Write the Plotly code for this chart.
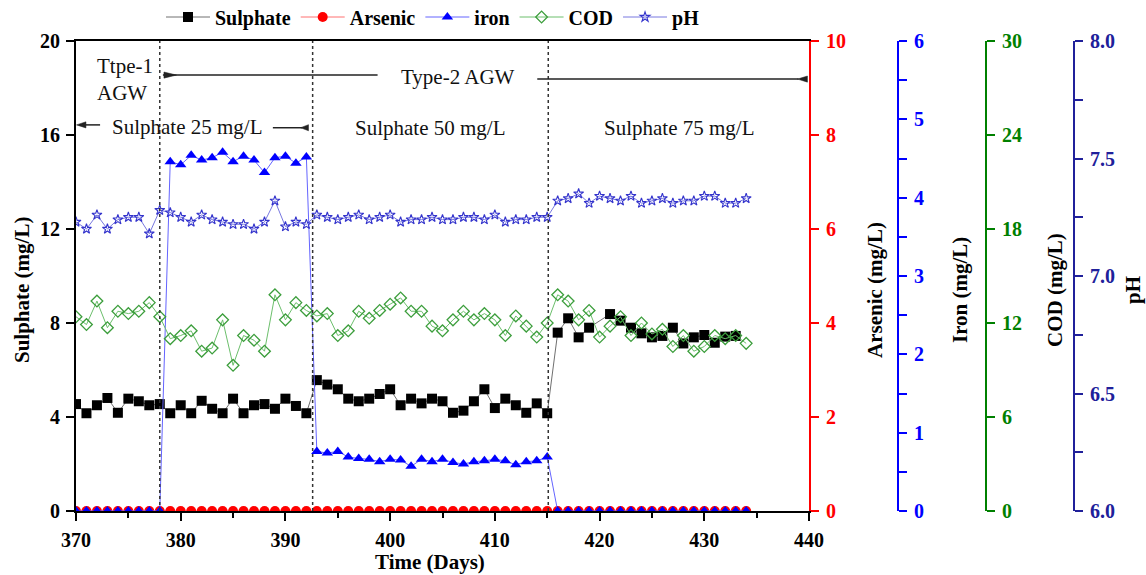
import plotly.graph_objects as go

# ---- data -------------------------------------------------------------
days = list(range(370, 435))

sulphate_days = list(range(370, 420)) + list(range(421, 434))
sulphate = [4.55, 4.16, 4.50, 4.81, 4.18, 4.78, 4.67, 4.50, 4.55, 4.16, 4.50, 4.16,
            4.69, 4.35, 4.16, 4.78, 4.16, 4.50, 4.55, 4.35, 4.78, 4.47, 4.16,
            5.57, 5.38, 5.18, 4.78, 4.67, 4.78, 4.98, 5.18, 4.50, 4.78, 4.58, 4.78,
            4.67, 4.18, 4.27, 4.67, 5.18, 4.38, 4.78, 4.50, 4.18, 4.58, 4.16,
            7.59, 8.20, 7.39, 7.80,
            8.38, 8.10, 7.80, 7.56, 7.39, 7.45, 7.80, 7.13, 7.39, 7.49, 7.16, 7.42, 7.45]

arsenic = [0.0, 0.0, 0.0, 0.0, 0.0, 0.0, 0.0, 0.0, 0.0, 0.0, 0.0, 0.0, 0.0,
           0.0, 0.0, 0.0, 0.0, 0.0, 0.0, 0.0, 0.0, 0.0, 0.0, 0.0, 0.0, 0.0,
           0.0, 0.0, 0.0, 0.0, 0.0, 0.0, 0.0, 0.0, 0.0, 0.0, 0.0, 0.0, 0.0,
           0.0, 0.0, 0.0, 0.0, 0.0, 0.0, 0.0, 0.0, 0.0, 0.0, 0.0, 0.0, 0.0,
           0.0, 0.0, 0.0, 0.0, 0.0, 0.0, 0.0, 0.0, 0.0, 0.0, 0.0, 0.0, 0.0]

iron = [0.0, 0.0, 0.0, 0.0, 0.0, 0.0, 0.0, 0.0, 0.0,
        4.46, 4.42, 4.54, 4.48, 4.51, 4.58, 4.46, 4.53, 4.48, 4.32, 4.51, 4.53, 4.44, 4.52,
        0.76, 0.74, 0.76, 0.69, 0.67, 0.66, 0.63, 0.66, 0.65, 0.57, 0.66, 0.63,
        0.66, 0.62, 0.60, 0.63, 0.64, 0.66, 0.64, 0.59, 0.63, 0.64, 0.69,
        0.0, 0.0, 0.0, 0.0, 0.0, 0.0, 0.0, 0.0, 0.0, 0.0, 0.0, 0.0, 0.0, 0.0,
        0.0, 0.0, 0.0, 0.0, 0.0]

cod = [12.4, 11.9, 13.4, 11.7, 12.75, 12.6, 12.75, 13.3, 12.4, 11.0, 11.2, 11.5,
       10.2, 10.4, 12.2, 9.3, 11.2, 10.9, 10.2, 13.8, 12.2, 13.3, 12.8,
       12.45, 12.6, 11.2, 11.5, 12.75, 12.3, 12.8, 13.2, 13.6, 12.75, 12.75, 11.8,
       11.5, 12.2, 12.75, 12.2, 12.6, 12.2, 11.2, 12.45, 11.8, 11.1, 12.0,
       13.8, 13.4, 12.2, 12.8, 11.1, 11.8, 12.4, 11.2, 12.0, 11.3, 11.6, 10.5,
       11.2, 10.2, 10.5, 11.2, 11.0, 11.2, 10.7]

ph = [7.23, 7.20, 7.26, 7.20, 7.24, 7.25, 7.25, 7.18, 7.28, 7.27, 7.25, 7.23,
      7.26, 7.24, 7.23, 7.22, 7.22, 7.20, 7.23, 7.32, 7.21, 7.23, 7.22,
      7.26, 7.25, 7.24, 7.25, 7.26, 7.24, 7.25, 7.26, 7.23, 7.24, 7.24, 7.25,
      7.24, 7.24, 7.25, 7.25, 7.24, 7.26, 7.23, 7.24, 7.24, 7.25, 7.25,
      7.32, 7.33, 7.35, 7.31, 7.34, 7.33, 7.32, 7.34, 7.31, 7.32, 7.33, 7.31,
      7.32, 7.32, 7.34, 7.34, 7.31, 7.31, 7.33]

# phase boundaries (days)
phase_bounds = [378.0, 392.6, 415.1]

# ---- styling ----------------------------------------------------------
SERIF = "Liberation Serif, Times New Roman, serif"
RED, BLUE, GREEN, NAVY = "#FF0000", "#0000FF", "#008000", "#20209A"

# figure is 1146 px wide; plotting paper spans 76..1106 px
M_L, M_R, M_T, M_B = 76, 40, 41, 64
PAPER_W = 1146 - M_L - M_R
PAPER_H = 575 - M_T - M_B
PLOT_RIGHT_PX = 809


def px_to_paper(px):
    return (px - M_L) / PAPER_W


def py_to_paper(py):
    return (575 - M_B - py) / PAPER_H


fig = go.Figure()

fig.add_trace(go.Scatter(
    x=sulphate_days, y=sulphate, name="Sulphate", mode="lines+markers",
    line=dict(color="#707070", width=1),
    marker=dict(symbol="square", size=10, color="black"), yaxis="y"))

fig.add_trace(go.Scatter(
    x=days, y=arsenic, name="Arsenic", mode="lines+markers",
    line=dict(color="#FF7070", width=1),
    marker=dict(symbol="circle", size=10, color=RED), yaxis="y2"))

fig.add_trace(go.Scatter(
    x=days, y=iron, name="iron", mode="lines+markers",
    line=dict(color="#6464FF", width=1),
    marker=dict(symbol="triangle-up", size=10, color=BLUE), yaxis="y3"))

fig.add_trace(go.Scatter(
    x=days, y=cod, name="COD", mode="lines+markers",
    line=dict(color="#6CBF6C", width=1),
    marker=dict(symbol="diamond-open", size=9, color="#3C9E3C",
                line=dict(width=1.3)), yaxis="y4"))

fig.add_trace(go.Scatter(
    x=days, y=ph, name="pH", mode="lines+markers",
    line=dict(color="#7878E0", width=1),
    marker=dict(symbol="star-open", size=7.5, color="#3333CC",
                line=dict(width=1.1)), yaxis="y5"))

tickfont = dict(family=SERIF, size=20, color="black", weight="bold")


def right_axis(color, rng, dtick, position=None, minor=None, fmt=None):
    ax = dict(
        overlaying="y", side="right", range=rng, dtick=dtick, tick0=rng[0],
        showgrid=False, zeroline=False, showline=True, linecolor=color, linewidth=2,
        ticks="outside", ticklen=8, tickwidth=2, tickcolor=color,
        tickfont=dict(family=SERIF, size=20, color=color, weight="bold"),
        ticklabelstandoff=3,
    )
    if position is None:
        ax["anchor"] = "x"
    else:
        ax["anchor"] = "free"
        ax["position"] = position
    if minor is not None:
        ax["minor"] = dict(dtick=minor, ticks="outside", ticklen=8, tickwidth=2,
                           tickcolor=color, showgrid=False)
    if fmt:
        ax["tickformat"] = fmt
    return ax


fig.update_layout(
    width=1146, height=575,
    margin=dict(l=M_L, r=M_R, t=M_T, b=M_B, autoexpand=False),
    plot_bgcolor="white", paper_bgcolor="white",
    font=dict(family=SERIF, size=20, color="black"),
    xaxis=dict(
        domain=[0, px_to_paper(PLOT_RIGHT_PX)], range=[370, 440], dtick=10, tick0=370,
        showgrid=False, zeroline=False, showline=True, linecolor="black", linewidth=2,
        mirror=True, ticks="outside", ticklen=8, tickwidth=2, tickcolor="black",
        minor=dict(dtick=5, ticks="outside", ticklen=5, tickwidth=2, tickcolor="black"),
        tickfont=tickfont, ticklabelstandoff=2,
    ),
    yaxis=dict(
        range=[0, 20], dtick=4, tick0=0, showgrid=False, zeroline=False,
        showline=True, linecolor="black", linewidth=2,
        ticks="outside", ticklen=8, tickwidth=2, tickcolor="black",
        tickfont=tickfont, ticklabelstandoff=2,
    ),
    yaxis2=right_axis(RED, [0, 10], 2),
    yaxis3=right_axis(BLUE, [0, 6], 1, position=px_to_paper(898), minor=0.5),
    yaxis4=right_axis(GREEN, [0, 30], 6, position=px_to_paper(986)),
    yaxis5=right_axis(NAVY, [6, 8], 0.5, position=px_to_paper(1074), minor=0.25, fmt=".1f"),
    legend=dict(
        orientation="h", x=px_to_paper(161), y=py_to_paper(17), xanchor="left",
        yanchor="middle",
        font=dict(family=SERIF, size=20, color="black", weight="bold"),
        bgcolor="rgba(0,0,0,0)", itemwidth=44, tracegroupgap=0,
    ),
    showlegend=True,
)

# phase boundary lines
for b in phase_bounds:
    fig.add_shape(type="line", xref="x", yref="paper", x0=b, x1=b, y0=0, y1=1,
                  line=dict(color="#333333", width=1.5, dash="dot"), layer="above")

# arrows marking the feed periods
arrow_col = "#222222"
seg_lines = [
    (378.3, 398.8, 18.55),   # Type-2 AGW, left part
    (414.05, 439.0, 18.38),  # Type-2 AGW, right part
    (370.8, 372.3, 16.43),   # Sulphate 25, left part
    (388.8, 391.6, 16.31),   # Sulphate 25, right part
]
for x0, x1, yv in seg_lines:
    fig.add_shape(type="line", xref="x", yref="y", x0=x0, x1=x1, y0=yv, y1=yv,
                  line=dict(color=arrow_col, width=1.5))

# arrow heads: (tip_x, base_x, y)
heads = [
    (379.6, 378.4, 18.55),
    (438.9, 439.85, 18.38),
    (370.05, 370.95, 16.43),
    (391.45, 392.2, 16.31),
]
for tip, base, yv in heads:
    h = 0.13
    fig.add_shape(type="path", xref="x", yref="y",
                  path=f"M {tip},{yv} L {base},{yv + h} L {base},{yv - h} Z",
                  fillcolor=arrow_col, line=dict(color=arrow_col, width=0.5))

text_font = dict(family=SERIF, size=21, color="#111111")
fig.add_annotation(x=371.8, y=18.37, xref="x", yref="y", text="Ttpe-1<br>AGW",
                   showarrow=False, xanchor="left", yanchor="middle", align="left",
                   font=text_font)
fig.add_annotation(x=406.5, y=18.47, xref="x", yref="y", text="Type-2 AGW",
                   showarrow=False, font=text_font)
fig.add_annotation(x=380.6, y=16.34, xref="x", yref="y", text="Sulphate 25 mg/L",
                   showarrow=False, font=text_font)
fig.add_annotation(x=403.9, y=16.3, xref="x", yref="y", text="Sulphate 50 mg/L",
                   showarrow=False, font=text_font)
fig.add_annotation(x=427.6, y=16.3, xref="x", yref="y", text="Sulphate 75 mg/L",
                   showarrow=False, font=text_font)

# axis titles
title_font = dict(family=SERIF, size=21, color="black", weight="bold")
title_y = py_to_paper(290)
for px, txt in [(22, "Sulphate (mg/L)"), (875, "Arsenic (mg/L)"),
                (960, "Iron (mg/L)"), (1055, "COD (mg/L)"), (1133, "pH")]:
    fig.add_annotation(x=px_to_paper(px), y=title_y, xref="paper", yref="paper",
                       text=txt, textangle=-90, showarrow=False,
                       xanchor="center", yanchor="middle", font=title_font)
fig.add_annotation(x=px_to_paper(430), y=py_to_paper(562), xref="paper", yref="paper",
                   text="Time (Days)", showarrow=False, xanchor="center",
                   yanchor="middle", font=title_font)

fig.write_html("out.html")
